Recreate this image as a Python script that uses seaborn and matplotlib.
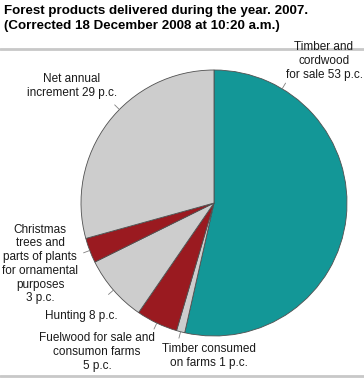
import numpy as np
import matplotlib
matplotlib.use("Agg")
import matplotlib.pyplot as plt
import seaborn as sns

sns.set_theme(style="white")
plt.rcParams["font.family"] = ["Liberation Sans", "DejaVu Sans"]

# slices, clockwise from 12 o'clock
labels = [
    "Timber and\ncordwood\nfor sale 53 p.c.",
    "Timber consumed\non farms 1 p.c.",
    "Fuelwood for sale and\nconsumon farms\n5 p.c.",
    "Hunting 8 p.c.",
    "Christmas\ntrees and\nparts of plants\nfor ornamental\npurposes\n3 p.c.",
    "Net annual\nincrement 29 p.c.",
]
values = [53, 1, 5, 8, 3, 29]
colors = ["#139797", "#cdcdcd", "#9a1a20", "#cdcdcd", "#9a1a20", "#cdcdcd"]

# where along each wedge the leader line starts (0..1) and text centre in pixels
leader_frac = [0.16, 0.5, 0.5, 0.5, 0.5, 0.57]
text_px = [(324, 61), (209, 356), (97, 352), (81, 316), (40, 264), (72, 86)]

W, H = 364, 380
fig = plt.figure(figsize=(W / 100, H / 100), dpi=100)
fig.patch.set_facecolor("white")

ax = fig.add_axes([81 / W, 44 / H, 266 / W, 266 / H])
wedges, _ = ax.pie(values, colors=colors, startangle=90, counterclock=False,
                   wedgeprops=dict(edgecolor="#505050", linewidth=0.6))
ax.set_xlim(-1, 1)
ax.set_ylim(-1, 1)
ax.set_aspect("equal")
ax.axis("off")

for w, lab, f, (tx, ty) in zip(wedges, labels, leader_frac, text_px):
    # wedge runs clockwise: theta2 -> theta1
    ang = np.deg2rad(w.theta2 - f * (w.theta2 - w.theta1))
    x0, y0 = np.cos(ang), np.sin(ang)
    ax.plot([x0, 1.05 * x0], [y0, 1.05 * y0], color="#808080", lw=0.6,
            clip_on=False)
    fig.text(tx / W, 1 - ty / H, lab, ha="center", va="center",
             fontsize=8.5, color="#1a1a1a", linespacing=1.2)

fig.text(4 / W, 1 - 5 / H,
         "Forest products delivered during the year. 2007.\n"
         "(Corrected 18 December 2008 at 10:20 a.m.)",
         ha="left", va="top", fontsize=9.6, fontweight="bold",
         color="#000000", linespacing=1.35)

fig.add_artist(plt.Line2D([0, 1], [1 - 49 / H, 1 - 49 / H], color="#c8c8c8", lw=2))
fig.add_artist(plt.Line2D([0, 1], [1 - 376 / H, 1 - 376 / H], color="#c8c8c8", lw=2))

fig.savefig("out.png", dpi=100, facecolor="white")
